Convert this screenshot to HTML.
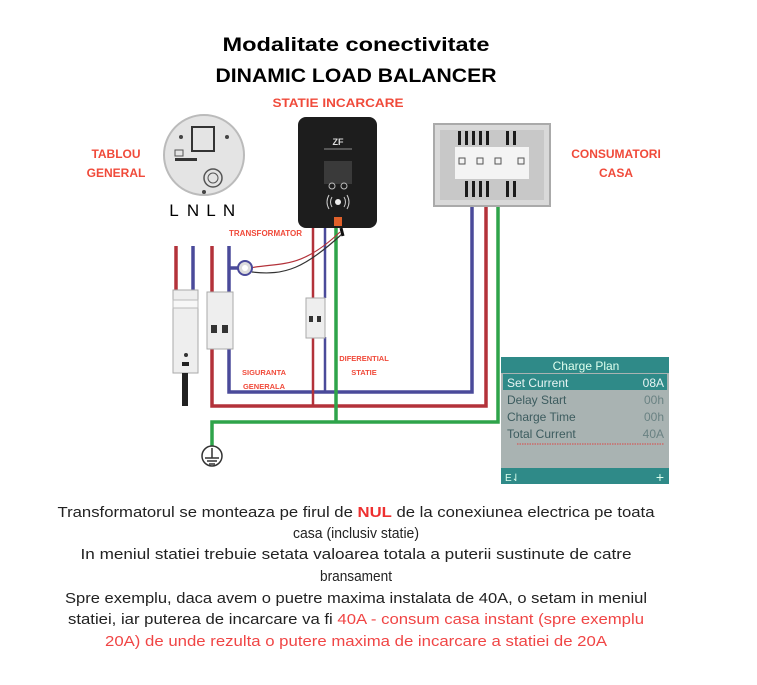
<!DOCTYPE html>
<html><head><meta charset="utf-8"><style>
html,body{margin:0;padding:0;background:#fff;width:757px;height:685px;overflow:hidden}
svg{display:block}
text{font-family:"Liberation Sans",sans-serif}
</style></head><body>
<svg width="757" height="685" viewBox="0 0 757 685" xmlns="http://www.w3.org/2000/svg">
<!-- titles -->
<text x="356" y="51" text-anchor="middle" font-size="19" font-weight="bold" textLength="267" lengthAdjust="spacingAndGlyphs">Modalitate conectivitate</text>
<text x="356" y="82" text-anchor="middle" font-size="19" font-weight="bold" textLength="281" lengthAdjust="spacingAndGlyphs">DINAMIC LOAD BALANCER</text>
<text x="338" y="107" text-anchor="middle" font-size="12" font-weight="bold" fill="#f04a3a" textLength="131" lengthAdjust="spacingAndGlyphs">STATIE INCARCARE</text>
<text x="116" y="158" text-anchor="middle" font-size="12" font-weight="bold" fill="#f04a3a">TABLOU</text>
<text x="116" y="177" text-anchor="middle" font-size="12" font-weight="bold" fill="#f04a3a">GENERAL</text>
<text x="616" y="158" text-anchor="middle" font-size="12" font-weight="bold" fill="#f04a3a">CONSUMATORI</text>
<text x="616" y="177" text-anchor="middle" font-size="12" font-weight="bold" fill="#f04a3a">CASA</text>

<!-- meter -->
<circle cx="204" cy="155" r="40" fill="#e4e4e4" stroke="#bbb" stroke-width="2"/>
<rect x="192" y="127" width="22" height="24" fill="none" stroke="#333" stroke-width="2"/>
<rect x="175" y="158" width="22" height="3" fill="#333"/>
<rect x="175" y="150" width="8" height="6" fill="none" stroke="#555"/>
<circle cx="213" cy="178" r="9" fill="none" stroke="#555" stroke-width="1.5"/>
<circle cx="213" cy="178" r="5" fill="none" stroke="#555"/>
<circle cx="181" cy="137" r="2" fill="#444"/><circle cx="227" cy="137" r="2" fill="#444"/><circle cx="204" cy="192" r="2" fill="#444"/>
<text x="174" y="216" text-anchor="middle" font-size="17">L</text>
<text x="193" y="216" text-anchor="middle" font-size="17">N</text>
<text x="211" y="216" text-anchor="middle" font-size="17">L</text>
<text x="229" y="216" text-anchor="middle" font-size="17">N</text>

<!-- wires -->
<g fill="none" stroke-width="3.5">
<path d="M176 246 V292" stroke="#b3323a"/>
<path d="M193 246 V292" stroke="#4a4a9a"/>
<path d="M212 246 V292 M212 348 V406 H486 V204" stroke="#b3323a"/>
<path d="M229 246 V292 M229 348 V392 H472 V204" stroke="#4a4a9a"/>
<path d="M229 268 H240" stroke="#4a4a9a"/>
<path d="M313 228 V298 M313 337 V406" stroke="#b3323a" stroke-width="2.5"/>
<path d="M325 228 V298 M325 337 V392" stroke="#4a4a9a" stroke-width="2.5"/>
<path d="M336 228 V422 M212 453 V422 H498 V204" stroke="#2ea44a"/>
<path d="M250 268 C280 262 300 270 340 232" stroke="#b3323a" stroke-width="1.2"/>
<path d="M252 272 C285 276 305 268 342 234" stroke="#333" stroke-width="1.2"/>
</g>
<circle cx="245" cy="268" r="7" fill="#ddd" stroke="#4a4a9a" stroke-width="2"/>
<circle cx="245" cy="268" r="3" fill="#fff"/>
<text x="229" y="236" font-size="8" font-weight="bold" fill="#f04a3a">TRANSFORMATOR</text>

<!-- left module -->
<rect x="173" y="290" width="25" height="83" fill="#eee" stroke="#aaa"/>
<rect x="173" y="300" width="25" height="8" fill="#f7f7f7" stroke="#bbb"/>
<circle cx="186" cy="355" r="2" fill="#333"/>
<rect x="182" y="362" width="7" height="4" fill="#222"/>
<rect x="182" y="373" width="6" height="33" fill="#222"/>
<!-- breaker general -->
<rect x="207" y="292" width="26" height="57" fill="#eee" stroke="#aaa"/>
<rect x="211" y="325" width="6" height="8" fill="#333"/><rect x="222" y="325" width="6" height="8" fill="#333"/>
<text x="264" y="375" text-anchor="middle" font-size="7.5" font-weight="bold" fill="#f04a3a">SIGURANTA</text>
<text x="264" y="389" text-anchor="middle" font-size="7.5" font-weight="bold" fill="#f04a3a">GENERALA</text>
<!-- diferential -->
<rect x="306" y="298" width="19" height="40" fill="#eee" stroke="#aaa"/>
<rect x="309" y="316" width="4" height="6" fill="#333"/><rect x="317" y="316" width="4" height="6" fill="#333"/>
<text x="364" y="361" text-anchor="middle" font-size="7.5" font-weight="bold" fill="#f04a3a">DIFERENTIAL</text>
<text x="364" y="375" text-anchor="middle" font-size="7.5" font-weight="bold" fill="#f04a3a">STATIE</text>

<!-- station -->
<rect x="298" y="117" width="79" height="111" rx="8" fill="#1d1d1d"/>
<text x="338" y="145" text-anchor="middle" font-size="9" font-weight="bold" fill="#ddd">ZF</text>
<rect x="324" y="148" width="28" height="2" fill="#555"/>
<rect x="324" y="161" width="28" height="23" fill="#3a3a3a"/>
<circle cx="332" cy="186" r="3" fill="none" stroke="#bbb"/><circle cx="344" cy="186" r="3" fill="none" stroke="#bbb"/>
<circle cx="338" cy="202" r="3" fill="#eee"/>
<path d="M332 197 Q329 202 332 207 M344 197 Q347 202 344 207 M329 195 Q325 202 329 209 M347 195 Q351 202 347 209" stroke="#ccc" fill="none"/>
<rect x="334" y="217" width="8" height="9" fill="#e0602a"/>
<path d="M341 228 L343 236" stroke="#111" stroke-width="3"/>

<!-- consumer box -->
<rect x="434" y="124" width="116" height="82" fill="#d9d9d9" stroke="#aaa" stroke-width="2"/>
<rect x="440" y="130" width="104" height="70" fill="#c8c8c8"/>
<rect x="455" y="147" width="74" height="32" fill="#f4f4f4"/>
<g fill="#1a1a1a">
<rect x="458" y="131" width="3" height="14"/><rect x="465" y="131" width="3" height="14"/><rect x="472" y="131" width="3" height="14"/><rect x="479" y="131" width="3" height="14"/><rect x="486" y="131" width="3" height="14"/><rect x="506" y="131" width="3" height="14"/><rect x="513" y="131" width="3" height="14"/>
<rect x="465" y="181" width="3" height="16"/><rect x="472" y="181" width="3" height="16"/><rect x="479" y="181" width="3" height="16"/><rect x="486" y="181" width="3" height="16"/><rect x="506" y="181" width="3" height="16"/><rect x="513" y="181" width="3" height="16"/>
</g>
<g fill="none" stroke="#555"><rect x="459" y="158" width="6" height="6"/><rect x="477" y="158" width="6" height="6"/><rect x="495" y="158" width="6" height="6"/><rect x="518" y="158" width="6" height="6"/></g>

<!-- ground -->
<circle cx="212" cy="456" r="10" fill="#fff" stroke="#333" stroke-width="1.5"/>
<path d="M212 448 V458 M205 458 H219 M207 461 H217 M209 464 H215" stroke="#333" stroke-width="1.5"/>

<!-- screen -->
<rect x="501" y="357" width="168" height="127" fill="#a9b3b2"/>
<rect x="501" y="357" width="168" height="16" fill="#2f8a88"/>
<text x="586" y="370" text-anchor="middle" font-size="12" fill="#dfe">Charge  Plan</text>
<rect x="503" y="374" width="164" height="16" fill="#2f8a88"/>
<text x="507" y="387" font-size="12" fill="#e8f4f3">Set  Current</text>
<text x="664" y="387" text-anchor="end" font-size="12" fill="#e8f4f3">08A</text>
<text x="507" y="404" font-size="12" fill="#3d5c5f">Delay  Start</text><text x="664" y="404" text-anchor="end" font-size="12" fill="#6a8283">00h</text>
<text x="507" y="421" font-size="12" fill="#3d5c5f">Charge  Time</text><text x="664" y="421" text-anchor="end" font-size="12" fill="#6a8283">00h</text>
<text x="507" y="438" font-size="12" fill="#3d5c5f">Total  Current</text><text x="664" y="438" text-anchor="end" font-size="12" fill="#6a8283">40A</text>
<line x1="517" y1="444" x2="664" y2="444" stroke="#d44" stroke-dasharray="1.5 1"/>
<rect x="501" y="468" width="168" height="16" fill="#2f8a88"/>
<text x="505" y="481" font-size="10" fill="#dfe">E⇃</text>
<text x="664" y="482" text-anchor="end" font-size="14" fill="#dfe">+</text>

<!-- bottom text -->
<g font-size="15" fill="#222" text-anchor="middle">
<text x="356" y="517" textLength="597" lengthAdjust="spacingAndGlyphs">Transformatorul se monteaza pe firul de <tspan fill="#ee3030" font-weight="bold">NUL</tspan> de la conexiunea electrica pe toata</text>
<text x="356" y="538" textLength="126" lengthAdjust="spacingAndGlyphs">casa (inclusiv statie)</text>
<text x="356" y="559" textLength="551" lengthAdjust="spacingAndGlyphs">In meniul statiei trebuie setata valoarea totala a puterii sustinute de catre</text>
<text x="356" y="581" textLength="72" lengthAdjust="spacingAndGlyphs">bransament</text>
<text x="356" y="603" textLength="582" lengthAdjust="spacingAndGlyphs">Spre exemplu, daca avem o puetre maxima instalata de 40A, o setam in meniul</text>
<text x="356" y="624" textLength="576" lengthAdjust="spacingAndGlyphs">statiei, iar puterea de incarcare va fi <tspan fill="#f04545">40A - consum casa instant (spre exemplu</tspan></text>
<text x="356" y="646" fill="#f04545" textLength="502" lengthAdjust="spacingAndGlyphs">20A) de unde rezulta o putere maxima de incarcare a statiei de 20A</text>
</g>
</svg>
</body></html>
